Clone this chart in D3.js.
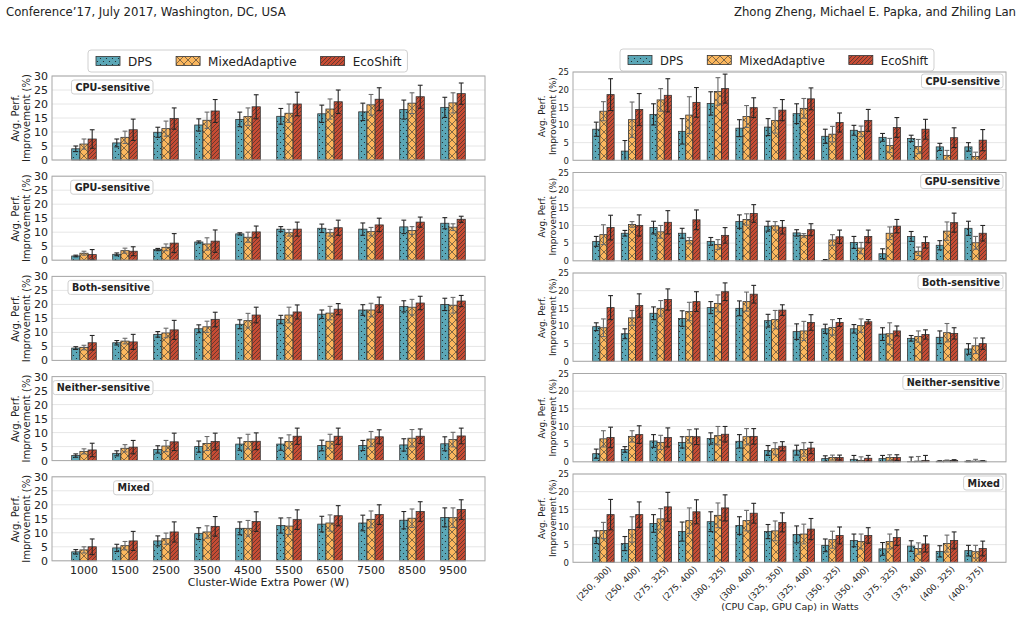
<!DOCTYPE html>
<html><head><meta charset="utf-8">
<script src="https://cdn.jsdelivr.net/npm/d3@7"></script>
<style>
body{margin:0;background:#fff;}
svg text{font-family:"DejaVu Sans",sans-serif;fill:#222;}
</style></head><body>
<svg id="c" width="1021" height="618"></svg>
<script>
const seriesNames = ["DPS","MixedAdaptive","EcoShift"];
const seriesColors = ["#5BA7B7","#FBB75E","#C74C34"];
const panelNames = ["CPU-sensitive","GPU-sensitive","Both-sensitive","Neither-sensitive","Mixed"];
const leftCats = ["1000","1500","2500","3500","4500","5500","6500","7500","8500","9500"];
const rightCats = ["(250, 300)","(250, 400)","(275, 325)","(275, 400)","(300, 325)","(300, 400)","(325, 350)","(325, 400)","(350, 325)","(350, 400)","(375, 325)","(375, 400)","(400, 325)","(400, 375)"];
const leftYTicks = [0,5,10,15,20,25,30];
const rightYTicks = [0,5,10,15,20,25];

// Left column (cluster-wide extra power): one row per panel
const leftDPS = [
 [4.0,6.1,9.9,12.5,14.5,15.6,16.5,17.2,18.0,18.8],
 [1.5,2.1,3.8,6.5,9.4,11.1,11.4,11.1,11.9,13.2],
 [4.4,6.3,9.3,11.3,12.9,14.6,16.5,18.0,19.3,20.0],
 [1.8,2.6,4.0,5.0,5.9,5.9,5.4,5.4,5.6,6.0],
 [3.2,4.6,7.1,9.7,11.6,12.6,13.1,13.5,14.5,15.5]];
const leftDPSErr = [
 [1.0,1.4,1.8,2.2,2.6,2.8,3.1,3.1,3.4,3.6],
 [0.3,0.5,0.4,0.4,0.4,0.9,1.5,2.2,2.4,2.0],
 [0.5,0.8,1.0,1.4,1.6,1.5,1.5,1.9,2.0,2.2],
 [0.6,0.9,1.3,2.0,2.2,2.2,1.9,1.8,2.2,2.5],
 [0.8,1.3,1.8,2.1,2.3,2.7,2.8,2.8,3.1,3.4]];
const leftMA = [
 [5.7,8.1,11.2,14.2,15.5,16.7,18.2,19.7,20.3,20.4],
 [2.5,3.4,4.6,5.8,8.2,9.8,9.8,10.2,10.6,11.8],
 [4.6,6.9,9.8,12.0,14.2,16.2,16.9,18.0,19.0,19.7],
 [3.3,4.4,5.2,6.1,6.8,6.8,6.9,7.7,8.0,7.5],
 [3.9,5.4,7.9,10.3,11.6,12.4,13.5,14.8,15.2,15.4]];
const leftMAErr = [
 [1.8,2.2,2.7,2.9,3.1,3.3,3.6,3.7,3.7,3.6],
 [0.7,0.9,1.2,2.2,1.8,1.2,1.2,1.5,1.4,1.2],
 [0.8,1.0,1.7,2.0,2.6,2.8,2.4,2.4,2.8,2.8],
 [0.9,1.3,2.0,2.5,2.6,2.4,2.5,2.7,3.1,2.6],
 [1.1,1.5,2.0,2.2,2.8,3.0,2.9,3.0,3.3,3.5]];
const leftEco = [
 [7.5,10.8,14.8,17.5,19.0,20.0,20.8,21.7,22.6,23.7],
 [2.0,3.2,6.1,6.8,10.1,11.1,11.6,12.6,13.6,14.6],
 [6.3,6.6,10.9,14.6,16.2,17.3,18.3,19.9,20.5,21.2],
 [3.8,4.8,6.7,6.8,6.9,8.7,8.7,8.5,8.7,8.8],
 [5.0,7.1,10.3,12.3,14.0,14.7,16.1,16.5,17.6,18.3]];
const leftEcoErr = [
 [3.3,3.8,3.8,4.1,4.3,4.2,4.2,4.1,4.1,3.8],
 [1.8,1.6,3.4,4.0,2.1,2.5,2.7,2.4,1.8,1.1],
 [2.6,2.7,3.4,2.6,2.8,2.5,2.0,2.7,2.4,2.0],
 [2.4,2.4,3.1,3.0,3.0,2.9,2.9,2.5,2.6,2.8],
 [2.8,3.4,3.6,3.5,3.5,3.5,3.6,3.5,3.5,3.5]];

// Right column (CPU cap, GPU cap)
const rightDPS = [
 [8.8,2.6,13.0,8.2,16.1,9.1,9.4,13.2,6.8,8.5,6.5,6.2,3.8,3.8],
 [5.5,7.8,9.4,7.8,5.5,11.1,9.8,7.9,0.05,5.2,2.0,6.9,4.4,9.2],
 [9.8,7.8,13.6,12.1,15.2,15.0,11.5,8.4,9.2,9.2,7.7,6.5,6.8,3.5],
 [2.3,3.5,5.9,5.5,6.6,5.8,3.2,3.3,0.9,0.7,0.9,0.05,0.15,0.15],
 [7.1,5.3,11.0,8.7,11.5,10.4,8.7,7.9,4.8,6.2,3.8,4.6,3.1,3.3]];
const rightDPSErr = [
 [2.0,3.0,3.0,3.6,3.3,2.4,2.4,2.8,2.0,1.4,1.1,0.9,1.0,1.2],
 [1.4,0.8,1.8,1.4,1.1,1.9,1.4,0.9,0.3,1.7,1.4,1.4,1.3,2.0],
 [1.1,1.4,1.8,2.2,1.7,2.1,1.8,2.2,1.3,1.2,1.8,0.8,1.8,1.5],
 [1.3,0.8,1.8,1.6,1.6,1.9,1.4,1.4,0.8,1.1,0.9,1.3,0.15,0.1],
 [1.8,2.0,2.5,2.7,2.8,2.5,2.0,2.4,1.8,1.8,1.8,1.5,1.6,1.5]];
const rightMA = [
 [13.9,11.5,17.1,12.8,19.5,12.4,11.3,14.7,7.4,8.2,4.2,3.9,1.4,1.1],
 [7.4,10.3,8.2,5.7,4.6,11.7,9.9,7.2,5.9,3.6,7.8,2.7,8.4,5.1],
 [9.5,12.3,15.0,14.1,16.4,16.9,11.8,8.6,9.6,10.1,7.8,7.0,8.1,4.4],
 [6.5,7.2,5.5,7.2,7.4,7.1,3.7,3.5,1.2,0.4,1.2,0.2,0.3,0.2],
 [9.0,9.3,12.3,11.8,13.3,11.8,8.9,8.0,6.4,5.9,5.9,3.9,5.3,3.0]];
const rightMAErr = [
 [2.7,5.0,3.2,5.2,3.9,3.1,3.6,2.8,2.2,1.5,2.0,2.0,1.4,1.2],
 [2.8,0.8,1.8,0.9,1.4,1.6,1.2,0.5,1.5,1.6,1.8,1.2,2.6,1.8],
 [2.5,2.1,2.2,2.6,2.4,2.7,2.6,2.7,2.2,1.9,3.1,1.6,2.6,2.2],
 [2.3,1.6,2.0,1.9,2.6,2.3,1.7,1.9,0.7,1.0,0.8,1.3,0.2,0.5],
 [2.3,3.6,2.9,3.6,3.5,2.9,2.8,2.8,2.4,2.1,2.1,1.6,2.4,1.8]];
const rightEco = [
 [18.6,14.4,18.4,16.4,20.3,14.9,14.2,17.4,10.7,11.3,9.3,8.8,6.4,5.7],
 [9.4,10.0,10.9,11.6,7.2,13.4,9.5,8.8,6.8,6.9,9.8,5.2,10.8,7.8],
 [15.2,15.8,17.5,16.9,19.7,19.0,14.5,11.0,11.0,11.2,8.6,7.6,7.9,5.0],
 [6.9,7.7,6.9,7.1,7.8,7.2,4.4,3.9,1.2,1.0,1.2,0.4,0.4,0.2],
 [13.5,13.5,15.7,14.3,15.4,13.9,11.3,9.4,7.6,7.6,7.0,5.2,6.2,3.9]];
const rightEcoErr = [
 [4.5,4.5,4.7,4.2,4.1,2.8,3.0,3.1,2.7,3.1,2.8,2.8,2.8,3.0],
 [3.5,3.0,3.3,2.8,2.2,2.5,1.9,1.7,1.9,1.8,1.9,1.6,2.7,2.2],
 [3.4,3.3,3.0,2.8,2.5,2.5,1.5,2.2,1.1,0.6,1.4,1.3,1.6,1.6],
 [2.9,2.5,2.7,2.2,2.2,2.2,1.3,1.6,0.7,0.8,0.8,1.4,0.2,0.1],
 [4.3,3.6,4.1,3.4,3.7,2.8,2.7,3.0,2.4,2.2,2.2,2.3,2.4,2.1]];

const svg = d3.select("#c");
svg.append("rect").attr("width",1021).attr("height",618).attr("fill","#fff");
const defs = svg.append("defs");

function makePatterns(){
  const p0 = defs.append("pattern").attr("id","pat0").attr("patternUnits","userSpaceOnUse").attr("width",6).attr("height",6);
  p0.append("rect").attr("width",6).attr("height",6).attr("fill",seriesColors[0]);
  p0.append("circle").attr("cx",1.5).attr("cy",1.5).attr("r",0.6).attr("fill","#1a1a1a");
  p0.append("circle").attr("cx",4.5).attr("cy",4.5).attr("r",0.6).attr("fill","#1a1a1a");
  const p1 = defs.append("pattern").attr("id","pat1").attr("patternUnits","userSpaceOnUse").attr("width",8).attr("height",8);
  p1.append("rect").attr("width",8).attr("height",8).attr("fill",seriesColors[1]);
  p1.append("path").attr("d","M0,0L8,8M8,0L0,8").attr("stroke","#333").attr("stroke-width",0.6);
  const p2 = defs.append("pattern").attr("id","pat2").attr("patternUnits","userSpaceOnUse").attr("width",4).attr("height",4);
  p2.append("rect").attr("width",4).attr("height",4).attr("fill",seriesColors[2]);
  p2.append("path").attr("d","M-1,1L1,-1M0,4L4,0M3,5L5,3").attr("stroke","#2a2a2a").attr("stroke-width",0.6);
}
makePatterns();

svg.append("text").attr("x",6).attr("y",16).attr("font-size",13)
  .style("font-family","'Liberation Sans Narrow','DejaVu Sans Condensed',sans-serif")
  .text("Conference’17, July 2017, Washington, DC, USA");
svg.append("text").attr("x",1016).attr("y",16).attr("font-size",13).attr("text-anchor","end")
  .style("font-family","'Liberation Sans Narrow','DejaVu Sans Condensed',sans-serif")
  .text("Zhong Zheng, Michael E. Papka, and Zhiling Lan");

function legend(x, y, fs){
  const g = svg.append("g");
  const box = g.append("rect").attr("x",x).attr("y",y).attr("height",22).attr("rx",3)
    .attr("fill","#fff").attr("stroke","#d0d0d0").attr("stroke-width",1);
  let cx = x + 8;
  seriesNames.forEach((s,i)=>{
    g.append("rect").attr("x",cx).attr("y",y+6.5).attr("width",24).attr("height",9)
      .attr("fill",`url(#pat${i})`).attr("stroke","#333").attr("stroke-width",0.8);
    const t = g.append("text").attr("x",cx+32).attr("y",y+15.5).attr("font-size",fs).text(s);
    cx = cx + 32 + t.node().getComputedTextLength() + 24;
  });
  box.attr("width", cx - 24 + 6 - x);
}
legend(88, 50, 12);
legend(620, 49, 11.6);

function panel(opts){
  const {x0,x1,top,h,cats,yMax,yTicks,vals,errs,pi,po,name,labelRight,labelDy,tickFs,ylFs,ylX,showX,rightSide} = opts;
  const g = svg.append("g");
  const x = d3.scaleBand().domain(cats).range([x0,x1]).paddingInner(pi).paddingOuter(po);
  const xs = d3.scaleBand().domain(seriesNames).range([0,x.bandwidth()]);
  const y = d3.scaleLinear().domain([0,yMax]).range([top+h,top]);
  g.append("g").selectAll("line").data(yTicks).join("line")
    .attr("x1",x0).attr("x2",x1).attr("y1",d=>y(d)).attr("y2",d=>y(d))
    .attr("stroke","#e6e6e6").attr("stroke-width",1);
  seriesNames.forEach((s,si)=>{
    const data = cats.map((c,ci)=>({c, v:vals[si][ci], e:errs[si][ci]}));
    g.append("g").selectAll("rect").data(data).join("rect")
      .attr("x",d=>x(d.c)+xs(s)).attr("width",xs.bandwidth())
      .attr("y",d=>y(d.v)).attr("height",d=>y(0)-y(d.v))
      .attr("fill",`url(#pat${si})`).attr("stroke","#333").attr("stroke-width",0.8);
  });
  seriesNames.forEach((s,si)=>{
    const data = cats.map((c,ci)=>({c, v:vals[si][ci], e:errs[si][ci]}));
    const col = si===1 ? "#6a6a6a" : "#262626";
    const eg = g.append("g").attr("stroke",col).attr("stroke-width",1.1);
    const cxf = d=>x(d.c)+xs(s)+xs.bandwidth()/2;
    eg.selectAll("line.v").data(data).join("line").attr("class","v")
      .attr("x1",cxf).attr("x2",cxf).attr("y1",d=>y(Math.max(0,d.v-d.e))).attr("y2",d=>y(d.v+d.e));
    eg.selectAll("line.t").data(data).join("line").attr("class","t")
      .attr("x1",d=>cxf(d)-2.4).attr("x2",d=>cxf(d)+2.4).attr("y1",d=>y(d.v+d.e)).attr("y2",d=>y(d.v+d.e));
    eg.selectAll("line.b").data(data.filter(d=>d.v-d.e>0)).join("line").attr("class","b")
      .attr("x1",d=>cxf(d)-2.4).attr("x2",d=>cxf(d)+2.4).attr("y1",d=>y(d.v-d.e)).attr("y2",d=>y(d.v-d.e));
  });
  g.append("rect").attr("x",x0).attr("y",top).attr("width",x1-x0).attr("height",h)
    .attr("fill","none").attr("stroke","#a8a8a8").attr("stroke-width",1);
  const ya = g.append("g").attr("transform",`translate(${x0},0)`)
    .call(d3.axisLeft(y).tickValues(yTicks).tickSize(0).tickPadding(4));
  ya.select(".domain").remove();
  ya.selectAll("text").attr("font-size",tickFs).style("font-family","DejaVu Sans").attr("fill","#222");
  const cy = top + h/2;
  g.append("text").attr("transform",`translate(${ylX[0]},${cy}) rotate(-90)`).attr("text-anchor","middle")
    .attr("font-size",ylFs).text("Avg. Perf.");
  g.append("text").attr("transform",`translate(${ylX[1]},${cy}) rotate(-90)`).attr("text-anchor","middle")
    .attr("font-size",ylFs).text("Improvement (%)");
  const lg = g.append("g");
  const lr = lg.append("rect");
  const lt = lg.append("text").attr("x",labelRight).attr("y",top+labelDy).attr("text-anchor","end")
    .attr("font-size",9.6).attr("font-weight","bold").attr("fill","#111").text(name);
  const w = lt.node().getComputedTextLength();
  lr.attr("x",labelRight-w-4).attr("y",top+labelDy-10.5)
    .attr("width",w+7).attr("height",14).attr("rx",2.5)
    .attr("fill","#fff").attr("stroke","#cfcfcf").attr("stroke-width",1);
  if(showX){
    const xa = g.append("g").attr("transform",`translate(0,${top+h})`)
      .call(d3.axisBottom(x).tickSize(0).tickPadding(rightSide?6:5));
    xa.select(".domain").remove();
    if(rightSide){
      xa.selectAll("text").attr("font-size",8.6).style("font-family","DejaVu Sans").attr("fill","#222")
        .attr("text-anchor","end").attr("dy",0)
        .attr("transform",`translate(4,3) rotate(-45)`);
    } else {
      xa.selectAll("text").attr("font-size",11).style("font-family","DejaVu Sans").attr("fill","#222");
    }
  }
}

for(let i=0;i<5;i++){
  panel({x0:52,x1:485,top:76+i*100.2,h:84,cats:leftCats,yMax:30,yTicks:leftYTicks,
    vals:[leftDPS[i],leftMA[i],leftEco[i]],errs:[leftDPSErr[i],leftMAErr[i],leftEcoErr[i]],
    pi:0.4,po:0.48,name:panelNames[i],labelRight:150,labelDy:14.5,tickFs:11,ylFs:10,ylX:[19,30],
    showX:i===4,rightSide:false});
  panel({x0:573,x1:1006,top:72+i*100.5,h:88.3,cats:rightCats,yMax:25,yTicks:rightYTicks,
    vals:[rightDPS[i],rightMA[i],rightEco[i]],errs:[rightDPSErr[i],rightMAErr[i],rightEcoErr[i]],
    pi:0.25,po:0.6875,name:panelNames[i],labelRight:1000,labelDy:12.5,tickFs:8.5,ylFs:8.9,ylX:[545,556],
    showX:i===4,rightSide:true});
}
svg.append("text").attr("x",268.5).attr("y",586).attr("text-anchor","middle").attr("font-size",11)
  .text("Cluster-Wide Extra Power (W)");
svg.append("text").attr("x",790).attr("y",610).attr("text-anchor","middle").attr("font-size",9.5)
  .text("(CPU Cap, GPU Cap) in Watts");
</script>
</body></html>
